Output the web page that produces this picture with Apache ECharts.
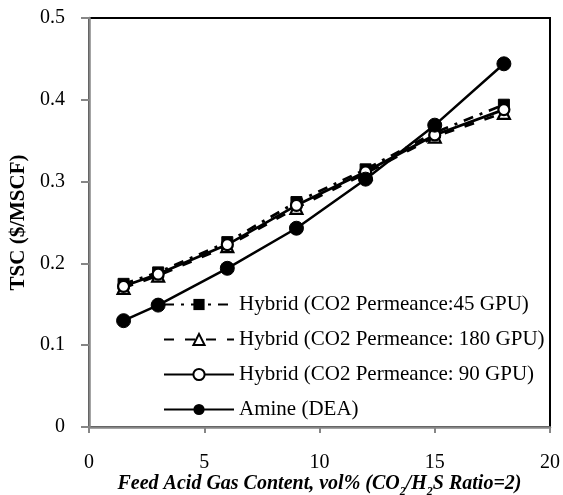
<!DOCTYPE html>
<html>
<head>
<meta charset="utf-8">
<script src="https://cdn.jsdelivr.net/npm/echarts@6/dist/echarts.min.js"></script>
<style>
  html, body { margin: 0; padding: 0; background: #fff; }
  #chart { width: 563px; height: 495px; }
</style>
</head>
<body>
<div id="chart"></div>
<script>
// Feed acid gas content (vol%)
var feedContent = [1.5, 3, 6, 9, 12, 15, 18];

// Total sweetening cost ($/MSCF)
var hybrid45 = [0.175, 0.189, 0.226, 0.275, 0.315, 0.360, 0.394];
var hybrid180 = [0.170, 0.185, 0.221, 0.268, 0.310, 0.355, 0.384];
var hybrid90 = [0.172, 0.187, 0.223, 0.271, 0.312, 0.357, 0.388];
var amineDEA = [0.130, 0.149, 0.194, 0.243, 0.303, 0.369, 0.444];

var seriesNames = [
  'Hybrid (CO2 Permeance:45 GPU)',
  'Hybrid (CO2 Permeance: 180 GPU)',
  'Hybrid (CO2 Permeance: 90 GPU)',
  'Amine (DEA)'
];

function pairs(ys) {
  return feedContent.map(function (x, i) { return [x, ys[i]]; });
}

var font = 'Liberation Serif, Times New Roman, serif';
var axisGrey = '#868686';
var chart = echarts.init(document.getElementById('chart'), null, { renderer: 'canvas' });

chart.setOption({
  animation: false,
  backgroundColor: '#ffffff',
  textStyle: { fontFamily: font, color: '#000' },
  grid: {
    left: 89, right: 13, top: 18, bottom: 68,
    outerBoundsMode: 'none',
    containLabel: false,
    show: true, borderColor: '#000', borderWidth: 2, backgroundColor: 'transparent'
  },
  legend: {
    orient: 'vertical',
    left: 158, top: 289,
    itemWidth: 70, itemHeight: 14, itemGap: 14,
    textStyle: { fontFamily: font, fontSize: 21, color: '#000' },
    data: seriesNames
  },
  xAxis: {
    type: 'value', min: 0, max: 20, interval: 5,
    name: '{a|Feed Acid Gas Content, vol% (CO}{s|2}{a|/H}{s|2}{a|S Ratio=2)}',
    nameLocation: 'middle', nameGap: 45,
    nameMoveOverlap: false,
    nameTextStyle: {
      rich: {
        a: { fontFamily: font, fontSize: 20, fontWeight: 'bold', fontStyle: 'italic', color: '#000', lineHeight: 22, verticalAlign: 'bottom' },
        s: { fontFamily: font, fontSize: 12, fontWeight: 'bold', fontStyle: 'italic', color: '#000', lineHeight: 16, verticalAlign: 'bottom', padding: [0, 0, -4, 0] }
      }
    },
    axisLine: { show: true, lineStyle: { color: axisGrey, width: 2.5 } },
    axisTick: { show: true, inside: false, length: 6, lineStyle: { color: axisGrey, width: 2 } },
    axisLabel: { fontFamily: font, fontSize: 20, color: '#000', margin: 26 },
    splitLine: { show: false }
  },
  yAxis: {
    type: 'value', min: 0, max: 0.5, interval: 0.1,
    name: 'TSC ($/MSCF)',
    nameLocation: 'middle', nameGap: 60,
    nameMoveOverlap: false,
    nameTextStyle: { fontFamily: font, fontSize: 21, fontWeight: 'bold', color: '#000' },
    axisLine: { show: true, lineStyle: { color: axisGrey, width: 2.5 } },
    axisTick: { show: true, inside: false, length: 8, lineStyle: { color: axisGrey, width: 2 } },
    axisLabel: { fontFamily: font, fontSize: 20, color: '#000', margin: 24 },
    splitLine: { show: false }
  },
  series: [
    {
      name: seriesNames[0], type: 'line', data: pairs(hybrid45),
      symbol: 'rect', symbolSize: 11,
      itemStyle: { color: '#000', borderColor: '#000' },
      lineStyle: { color: '#000', width: 2.7, type: [10, 7, 3, 7] }
    },
    {
      name: seriesNames[1], type: 'line', data: pairs(hybrid180),
      symbol: 'triangle', symbolSize: 12,
      itemStyle: { color: '#fff', borderColor: '#000', borderWidth: 2.2 },
      lineStyle: { color: '#000', width: 2.7, type: [10, 11] }
    },
    {
      name: seriesNames[2], type: 'line', data: pairs(hybrid90),
      symbol: 'circle', symbolSize: 11,
      itemStyle: { color: '#fff', borderColor: '#000', borderWidth: 2.2 },
      lineStyle: { color: '#000', width: 2.7 }
    },
    {
      name: seriesNames[3], type: 'line', data: pairs(amineDEA),
      symbol: 'circle', symbolSize: 14,
      itemStyle: { color: '#000', borderColor: '#000' },
      lineStyle: { color: '#000', width: 2.5 }
    }
  ]
});
</script>
</body>
</html>
